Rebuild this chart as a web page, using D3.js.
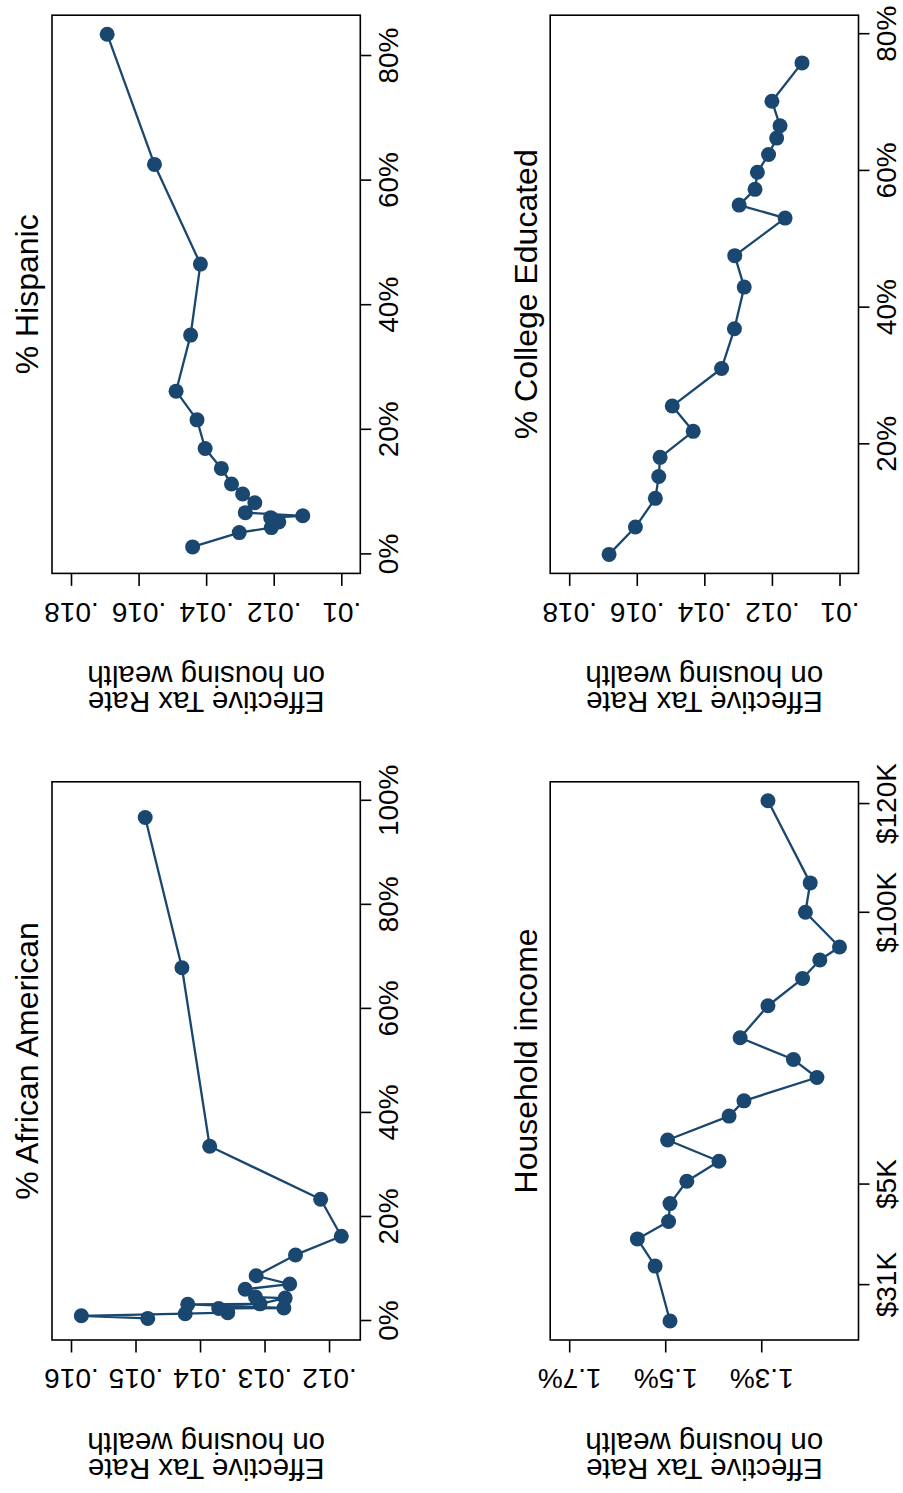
<!DOCTYPE html>
<html>
<head>
<meta charset="utf-8">
<script src="https://cdn.jsdelivr.net/npm/d3@7"></script>
<style>
body { margin: 0; background: #fff; }
svg { display: block; }
</style>
</head>
<body>
<svg width="903" height="1493"></svg>
<script>
// values (binned scatter, in plotting order)
var aaPct = [0.5, 1.0, 1.4, 1.6, 2.4, 2.5, 3.2, 3.3, 4.4, 4.6, 6.1, 7.1, 8.7, 12.7, 16.3, 23.4, 33.6, 67.9, 96.8];
var aaTax = [.01481, .01584, .01423, .01357, .01371, .01270, .01419, .01307, .01268, .01314, .01330, .01261, .01313, .01252, .01181, .01213, .01385, .01428, .01485];

var hispPct = [1.2, 3.5, 4.3, 5.2, 5.9, 6.2, 6.7, 8.3, 9.7, 11.3, 13.8, 17.0, 21.6, 26.2, 35.2, 46.6, 62.6, 83.5];
var hispTax = [.01440, .01302, .01207, .01185, .01209, .01114, .01284, .01256, .01292, .01325, .01355, .01403, .01427, .01489, .01446, .01417, .01553, .01693];

var incomeK = [24.9, 35.0, 40.0, 43.2, 46.5, 50.6, 54.3, 58.2, 62.6, 65.4, 69.7, 73.0, 77.0, 82.9, 87.9, 91.3, 93.7, 100.1, 105.5, 120.6];
var incomeTax = [1.490, 1.521, 1.558, 1.493, 1.490, 1.455, 1.388, 1.495, 1.367, 1.336, 1.184, 1.233, 1.344, 1.286, 1.214, 1.178, 1.137, 1.208, 1.198, 1.286];

var collPct = [3.9, 7.9, 12.1, 15.3, 18.1, 21.9, 25.6, 31.1, 36.9, 43.0, 47.6, 53.1, 55.0, 57.3, 59.8, 62.4, 64.8, 66.6, 70.2, 75.8];
var collTax = [.01682, .01604, .01545, .01535, .01531, .01433, .01495, .01349, .01311, .01282, .01310, .01161, .01297, .01250, .01243, .01210, .01186, .01176, .01200, .01111];

// tick values and labels
var pctTicksAA = [0, 20, 40, 60, 80, 100];
var pctTicksHisp = [0, 20, 40, 60, 80];
var pctTicksColl = [20, 40, 60, 80];
var incomeTicks = [31.5, 50, 100, 120];
var incomeLabels = ["$31K", "$5K", "$100K", "$120K"];
var taxTicksAA = [.012, .013, .014, .015, .016];
var taxLabelsAA = [".012", ".013", ".014", ".015", ".016"];
var taxTicksWide = [.01, .012, .014, .016, .018];
var taxLabelsWide = [".01", ".012", ".014", ".016", ".018"];
var incomeTaxTicks = [1.3, 1.5, 1.7];
var incomeTaxLabels = ["1.3%", "1.5%", "1.7%"];

var navy = "#1a476f";
var font = "'Liberation Sans', Arial, Helvetica, sans-serif";
var frameW = 558.2;
var frameH = 308.3;
var inset = 19;

// the whole figure is laid out landscape and turned a quarter turn
var root = d3.select("svg")
    .append("g")
    .attr("transform", "translate(0,1493) rotate(-90)");

var panels = [
    { title: "% African American", xs: aaPct, ys: aaTax, left: 153, top: 52,
      xTicks: pctTicksAA, xFmt: function(d) { return d + "%"; },
      yTicks: taxTicksAA, yLabels: taxLabelsAA },
    { title: "% Hispanic", xs: hispPct, ys: hispTax, left: 919.6, top: 52,
      xTicks: pctTicksHisp, xFmt: function(d) { return d + "%"; },
      yTicks: taxTicksWide, yLabels: taxLabelsWide },
    { title: "Household income", xs: incomeK, ys: incomeTax, left: 153, top: 550.2,
      xTicks: incomeTicks, xFmt: function(d, i) { return incomeLabels[i]; },
      yTicks: incomeTaxTicks, yLabels: incomeTaxLabels },
    { title: "% College Educated", xs: collPct, ys: collTax, left: 919.6, top: 550.2,
      xTicks: pctTicksColl, xFmt: function(d) { return d + "%"; },
      yTicks: taxTicksWide, yLabels: taxLabelsWide }
];

panels.forEach(drawPanel);

function drawPanel(p) {
    var g = root.append("g")
        .attr("transform", "translate(" + p.left + "," + p.top + ")");

    var x = d3.scaleLinear(d3.extent(p.xs.concat(p.xTicks)), [inset, frameW - inset]);
    var y = d3.scaleLinear(d3.extent(p.ys.concat(p.yTicks)), [frameH - inset, inset]);

    g.append("rect")
        .attr("width", frameW)
        .attr("height", frameH)
        .attr("fill", "none")
        .attr("stroke", "#000")
        .attr("stroke-width", 1.6);

    var xAxis = d3.axisBottom(x).tickValues(p.xTicks).tickFormat(p.xFmt).tickSize(11);
    var gx = g.append("g")
        .attr("transform", "translate(0," + frameH + ")")
        .call(xAxis);
    styleAxis(gx);
    gx.selectAll("text")
        .attr("y", 28.3)
        .attr("dy", null)
        .attr("dominant-baseline", "central");

    var yAxis = d3.axisLeft(y).tickValues(p.yTicks).tickFormat(function(d, i) {
        return p.yLabels[i];
    }).tickSize(12.5);
    var gy = g.append("g").call(yAxis);
    styleAxis(gy);
    gy.selectAll("text")
        .attr("x", null)
        .attr("dy", null)
        .attr("text-anchor", "middle")
        .attr("dominant-baseline", "central")
        .attr("transform", "translate(-38.8,0) rotate(-90)");

    g.append("text")
        .attr("x", frameW / 2)
        .attr("y", -13.7)
        .attr("text-anchor", "middle")
        .attr("font-family", font)
        .attr("font-size", 32)
        .text(p.title);

    [["Effective Tax Rate", -119], ["on housing wealth", -92.7]].forEach(function(line) {
        g.append("text")
            .attr("transform", "translate(" + line[1] + "," + (frameH / 2) + ") rotate(-90)")
            .attr("text-anchor", "middle")
            .attr("font-family", font)
            .attr("font-size", 29.5)
            .text(line[0]);
    });

    var path = d3.line()
        .x(function(d, i) { return x(p.xs[i]); })
        .y(function(d, i) { return y(d); });

    g.append("path")
        .datum(p.ys)
        .attr("d", path)
        .attr("fill", "none")
        .attr("stroke", navy)
        .attr("stroke-width", 2.3)
        .attr("stroke-linejoin", "round");

    g.selectAll("circle")
        .data(p.ys)
        .enter()
            .append("circle")
            .attr("cx", function(d, i) { return x(p.xs[i]); })
            .attr("cy", function(d) { return y(d); })
            .attr("r", 7.5)
            .attr("fill", navy);
}

function styleAxis(sel) {
    sel.attr("font-family", font).attr("font-size", 28);
    sel.select(".domain").remove();
    sel.selectAll("line").attr("stroke", "#000").attr("stroke-width", 1.6);
    sel.selectAll("text").attr("fill", "#000");
}
</script>
</body>
</html>
